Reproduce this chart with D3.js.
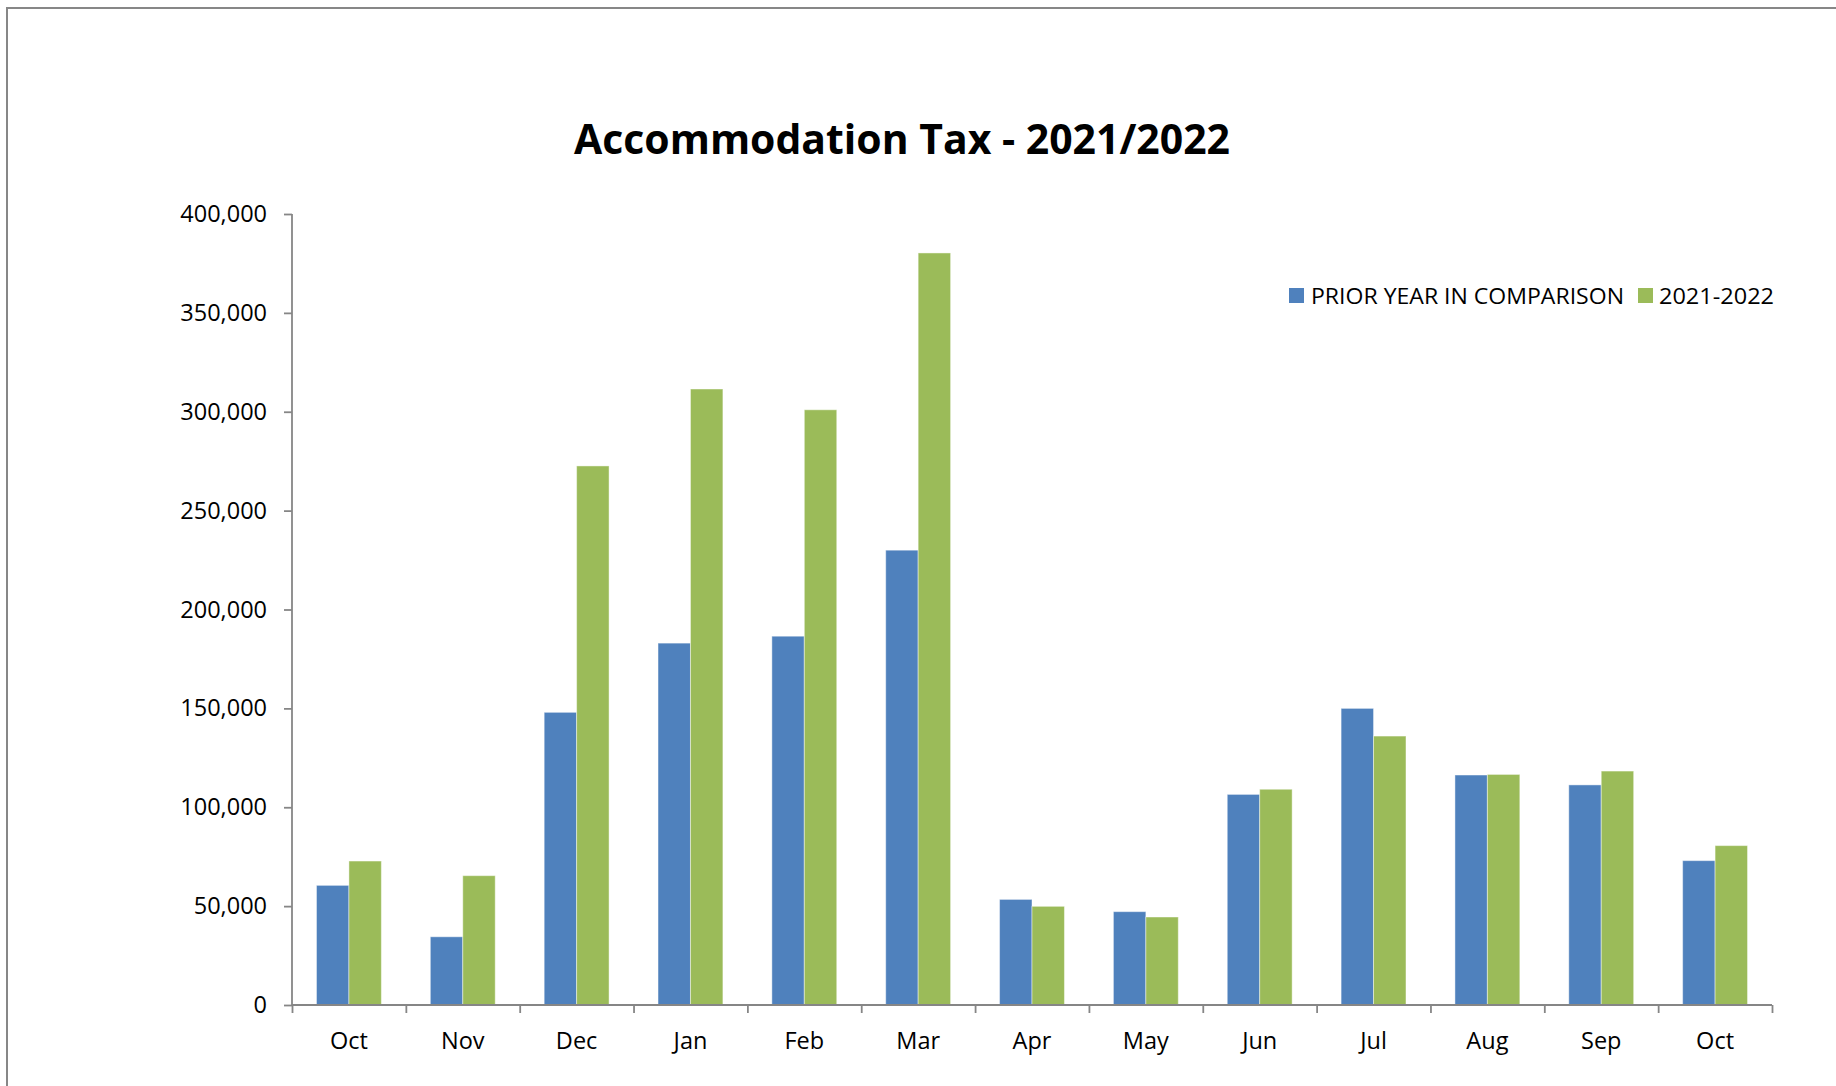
<!DOCTYPE html>
<html>
<head>
<meta charset="UTF-8">
<script src="https://d3js.org/d3.v7.min.js"></script>
<style>
  body { margin: 0; background: #fff; }
  svg text { font-family: "Open Sans", sans-serif; fill: #000; }
</style>
</head>
<body>
<div class="chart"></div>
<script>
// values
var months = ["Oct","Nov","Dec","Jan","Feb","Mar","Apr","May","Jun","Jul","Aug","Sep","Oct"];
var priorYear = [60500, 34500, 148000, 183000, 186500, 230000, 53400, 47200, 106500, 150000, 116300, 111300, 73000];
var thisYear  = [72800, 65400, 272600, 311500, 301000, 380300, 49900, 44500, 109100, 136000, 116600, 118300, 80600];
var seriesNames = ["PRIOR YEAR IN COMPARISON", "2021-2022"];
var yTicks = [0, 50000, 100000, 150000, 200000, 250000, 300000, 350000, 400000];

var width = 1836, height = 1086;
// note: "top" is a reserved window prop, so use plot* names
var plotLeft = 292, plotRight = 1772, plotTop = 214, plotBottom = 1005;
var colors = ["#4f81bd", "#9bbb59"];

var svg = d3.select(".chart").append("svg")
  .attr("width", width)
  .attr("height", height);

// chart frame (only top + left edges are visible in the picture)
svg.append("rect")
  .attr("x", 7).attr("y", 8)
  .attr("width", width + 20).attr("height", height + 20)
  .attr("fill", "none")
  .attr("stroke", "#878787")
  .attr("stroke-width", 2);

var idx = months.map(function(d, i) { return i; });

var x = d3.scaleBand()
  .domain(idx)
  .range([plotLeft, plotRight])
  .paddingInner(0.43)
  .paddingOuter(0.215);

var x1 = d3.scaleBand()
  .domain([0, 1])
  .range([0, x.bandwidth()]);

var y = d3.scaleLinear()
  .domain([0, 400000])
  .range([plotBottom, plotTop]);

var data = idx.map(function(i) { return [priorYear[i], thisYear[i]]; });

var groups = svg.append("g").selectAll("g")
  .data(data)
  .join("g")
    .attr("transform", function(d, i) { return "translate(" + x(i) + ",0)"; });

groups.selectAll("rect")
  .data(function(d) { return d; })
  .join("rect")
    .attr("x", function(d, j) { return x1(j); })
    .attr("y", function(d) { return y(d); })
    .attr("width", x1.bandwidth())
    .attr("height", function(d) { return y(0) - y(d); })
    .attr("fill", function(d, j) { return colors[j]; })
    .attr("stroke", "rgba(255,255,255,0.45)")
    .attr("stroke-width", 1);

// y axis
var yAxis = svg.append("g")
  .attr("transform", "translate(" + plotLeft + ",0)")
  .call(d3.axisLeft(y).tickValues(yTicks).tickSize(8).tickPadding(17)
    .tickFormat(d3.format(",")));

// x axis: labels
var xAxis = svg.append("g")
  .attr("transform", "translate(0," + plotBottom + ")")
  .call(d3.axisBottom(x).tickSize(0).tickPadding(27)
    .tickFormat(function(i) { return months[i]; }));

// x axis: ticks on category boundaries
var xb = d3.scaleLinear().domain([0, months.length]).range([plotLeft, plotRight]);
var xTicks = svg.append("g")
  .attr("transform", "translate(0," + plotBottom + ")")
  .call(d3.axisBottom(xb).ticks(months.length).tickSize(8).tickFormat(""));

[yAxis, xAxis, xTicks].forEach(function(g) {
  g.selectAll("path, line").attr("stroke", "#868686").attr("stroke-width", 1.8);
  g.selectAll("text").style("font-size", "23.5px").attr("fill", "#000");
});
xAxis.select(".domain").remove();
xTicks.select(".domain").attr("d", "M" + plotLeft + ",0H" + plotRight);
yAxis.select(".domain").attr("d", "M0," + plotTop + "V" + plotBottom);

// title
svg.append("text")
  .attr("x", 902).attr("y", 154)
  .attr("text-anchor", "middle")
  .attr("textLength", 656)
  .attr("lengthAdjust", "spacingAndGlyphs")
  .style("font-size", "42px")
  .style("font-weight", "bold")
  .text("Accommodation Tax - 2021/2022");

// legend
var legend = [
  { sx: 1289, tx: 1311, w: 313 },
  { sx: 1638, tx: 1659, w: 115 }
];
legend.forEach(function(l, i) {
  svg.append("rect")
    .attr("x", l.sx).attr("y", 288)
    .attr("width", 15).attr("height", 15)
    .attr("fill", colors[i]);
  svg.append("text")
    .attr("x", l.tx).attr("y", 303.5)
    .attr("textLength", l.w)
    .attr("lengthAdjust", "spacingAndGlyphs")
    .style("font-size", "22.5px")
    .text(seriesNames[i]);
});
</script>
</body>
</html>
